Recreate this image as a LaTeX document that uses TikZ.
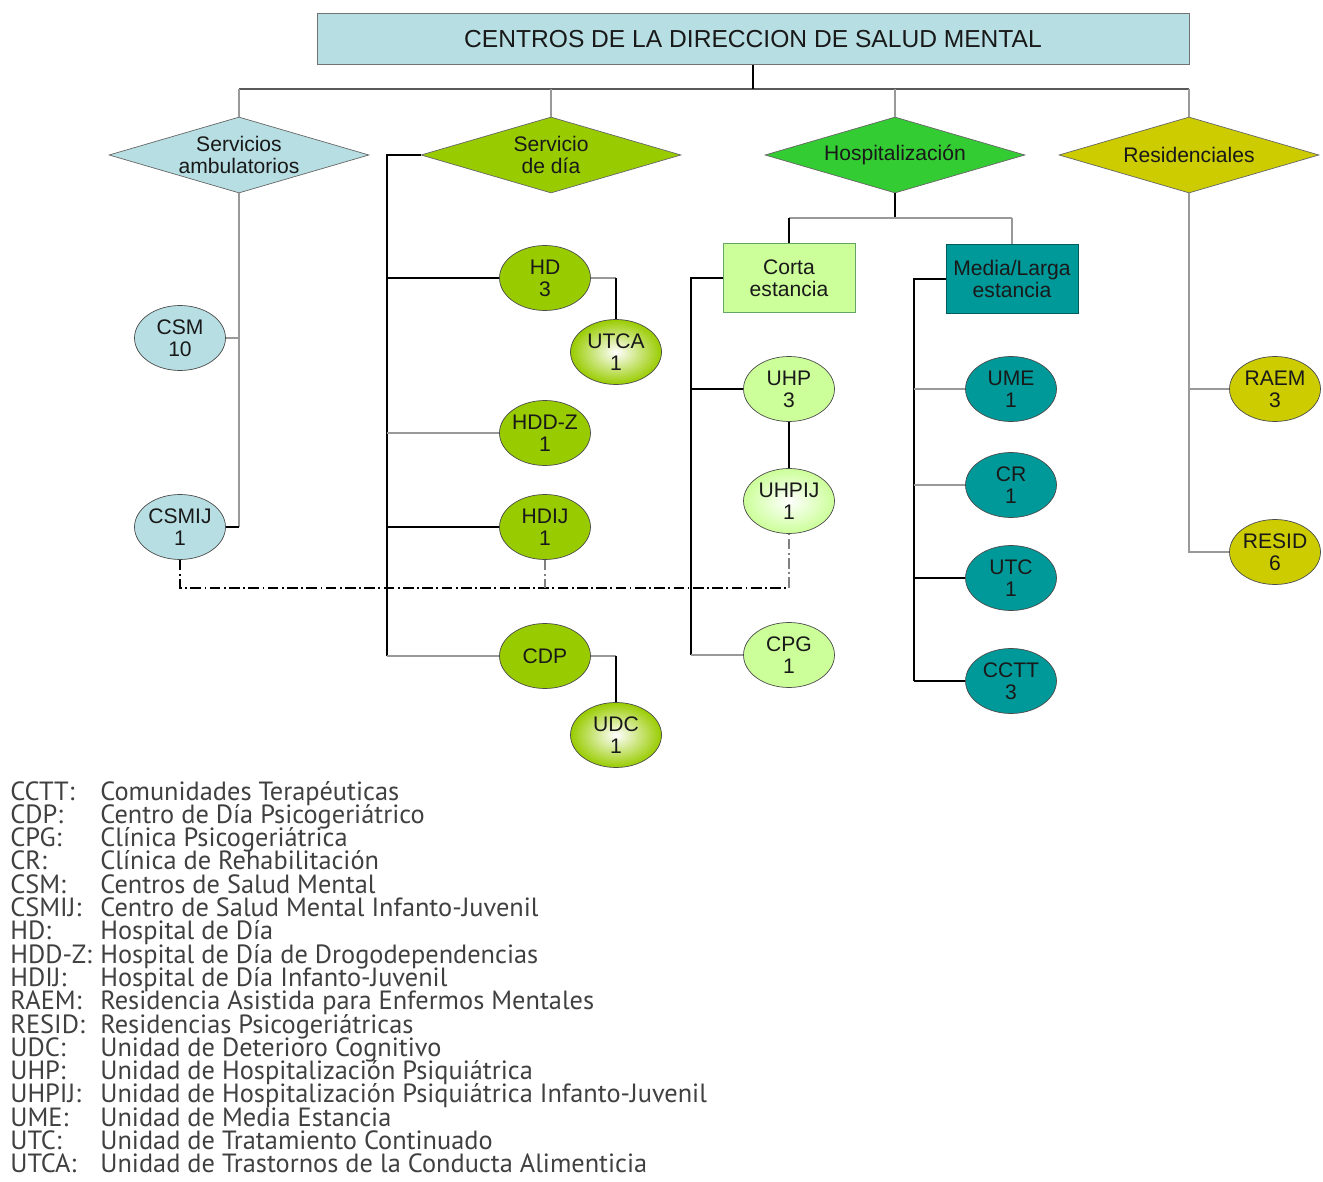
\documentclass[tikz,border=0pt]{standalone}
\usepackage{fontspec}
\setmainfont{Liberation Sans}
\newfontfamily\leyenda{PT Sans}
\usetikzlibrary{shapes.geometric}

\definecolor{azulclaro}{RGB}{183,223,227}
\definecolor{verdedia}{RGB}{153,204,0}
\definecolor{verdehosp}{RGB}{51,204,51}
\definecolor{amarillo}{RGB}{204,204,0}
\definecolor{verdepalido}{RGB}{204,255,153}
\definecolor{turquesa}{RGB}{0,153,153}

\begin{document}
\begin{tikzpicture}[x=0.02cm, y=-0.02cm,
        every node/.style={font=\fontsize{12}{12.5}\selectfont, align=center, text=black!90},
        titulo/.style={rectangle, fill=azulclaro, draw=black!55, minimum width=17.44cm, minimum height=1.02cm, font=\fontsize{14}{16}\selectfont},
        rombo/.style={diamond, draw=black!60, inner xsep=-0.6cm, inner ysep=-0.2cm, aspect=3.4, minimum width=5.2cm, minimum height=1.52cm},
        centro/.style={ellipse, draw=black!70, inner sep=-2pt, minimum width=1.82cm, minimum height=1.3cm},
        brillo/.style={centro, inner color=white, outer color=#1},
        caja/.style={rectangle, minimum width=2.64cm, minimum height=1.38cm},
        ejeNegro/.style={draw=black, line width=0.9pt},
        ejeGris/.style={draw=black!40, line width=0.9pt},
        enlace/.style={line width=0.8pt, dash pattern=on 6pt off 2pt on 1pt off 2pt},
        sigla/.style={anchor=base west, align=left, font=\leyenda\fontsize{15}{16}\selectfont, text=black!75}
    ]
        \useasboundingbox (0,0) rectangle (1323,1182);

        % Cabecera y grupos
        \node[titulo] (titulo) at (753,39) {CENTROS DE LA DIRECCION DE SALUD MENTAL};
        \node[rombo, fill=azulclaro] (amb) at (239,155) {Servicios\\ambulatorios};
        \node[rombo, fill=verdedia] (dia) at (551,155) {Servicio\\de día};
        \node[rombo, fill=verdehosp] (hosp) at (895,155) {Hospitalización};
        \node[rombo, fill=amarillo] (resi) at (1189,155) {Residenciales};

        % Servicios ambulatorios
        \node[centro, fill=azulclaro] (csm) at (180,338) {CSM\\10};
        \node[centro, fill=azulclaro] (csmij) at (180,527) {CSMIJ\\1};

        % Servicio de dia
        \node[centro, fill=verdedia] (hd) at (545,278) {HD\\3};
        \node[brillo=verdedia] (utca) at (616,352) {UTCA\\1};
        \node[centro, fill=verdedia] (hddz) at (545,433) {HDD-Z\\1};
        \node[centro, fill=verdedia] (hdij) at (545,527) {HDIJ\\1};
        \node[centro, fill=verdedia] (cdp) at (545,656) {CDP};
        \node[brillo=verdedia] (udc) at (616,735) {UDC\\1};

        % Hospitalizacion
        \node[caja, fill=verdepalido, draw=green!40!black!60] (corta) at (789,278) {Corta\\estancia};
        \node[caja, fill=turquesa, draw=turquesa!60!black] (media) at (1012,279) {Media/Larga\\estancia};
        \node[centro, fill=verdepalido] (uhp) at (789,389) {UHP\\3};
        \node[brillo=verdepalido] (uhpij) at (789,501) {UHPIJ\\1};
        \node[centro, fill=verdepalido] (cpg) at (789,655) {CPG\\1};
        \node[centro, fill=turquesa] (ume) at (1011,389) {UME\\1};
        \node[centro, fill=turquesa] (cr) at (1011,485) {CR\\1};
        \node[centro, fill=turquesa] (utc) at (1011,578) {UTC\\1};
        \node[centro, fill=turquesa] (cctt) at (1011,681) {CCTT\\3};

        % Residenciales
        \node[centro, fill=amarillo] (raem) at (1275,389) {RAEM\\3};
        \node[centro, fill=amarillo] (resid) at (1275,552) {RESID\\6};

        % Lineas de la cabecera
        \coordinate (bus) at (753,89);
        \draw[ejeGris, draw=black!65] (amb.north |- bus) -- (resi.north |- bus);
        \draw[ejeNegro, line width=1.3pt] (titulo.south) -- (bus);
        \draw[ejeGris] (amb.north |- bus) -- (amb.north);
        \draw[ejeGris] (dia.north |- bus) -- (dia.north);
        \draw[ejeGris] (hosp.north |- bus) -- (hosp.north);
        \draw[ejeGris] (resi.north |- bus) -- (resi.north);

        % Lineas de ambulatorios
        \draw[ejeGris] (amb.south) |- (csm.east);
        \draw[ejeGris] (amb.south) -- (amb.south |- csmij.east);
        \draw[ejeNegro] (amb.south |- csmij.east) -- (csmij.east);

        % Lineas de servicio de dia
        \coordinate (diabus) at (387,155);
        \draw[ejeNegro] (dia.west) -- (diabus) -- (diabus |- cdp.west);
        \draw[ejeNegro] (diabus |- hd.west) -- (hd.west);
        \draw[ejeGris] (diabus |- hddz.west) -- (hddz.west);
        \draw[ejeNegro] (diabus |- hdij.west) -- (hdij.west);
        \draw[ejeGris] (diabus |- cdp.west) -- (cdp.west);
        \draw[ejeGris] (hd.east) -- (hd.east -| utca.north);
        \draw[ejeNegro] (hd.east -| utca.north) -- (utca.north);
        \draw[ejeGris] (cdp.east) -- (cdp.east -| udc.north);
        \draw[ejeNegro] (cdp.east -| udc.north) -- (udc.north);

        % Lineas de hospitalizacion
        \coordinate (hbus) at (895,218);
        \draw[ejeNegro] (hosp.south) -- (hbus);
        \draw[ejeGris] (corta.north |- hbus) -- (media.north |- hbus);
        \draw[ejeNegro] (corta.north |- hbus) -- (corta.north);
        \draw[ejeGris] (media.north |- hbus) -- (media.north);
        \coordinate (cbus) at (691,278);
        \draw[ejeNegro] (corta.west) -- (cbus) -- (cbus |- cpg.west);
        \draw[ejeNegro] (cbus |- uhp.west) -- (uhp.west);
        \draw[ejeGris] (cbus |- cpg.west) -- (cpg.west);
        \draw[ejeNegro] (uhp.south) -- (uhpij.north);
        \coordinate (mbus) at (914,279);
        \draw[ejeNegro] (media.west) -- (mbus) -- (mbus |- cctt.west);
        \draw[ejeGris] (mbus |- ume.west) -- (ume.west);
        \draw[ejeGris] (mbus |- cr.west) -- (cr.west);
        \draw[ejeNegro] (mbus |- utc.west) -- (utc.west);
        \draw[ejeNegro] (mbus |- cctt.west) -- (cctt.west);

        % Lineas de residenciales
        \draw[ejeGris] (resi.south) |- (raem.west);
        \draw[ejeGris] (resi.south) |- (resid.west);

        % Enlace infanto-juvenil
        \coordinate (ijbus) at (180,588);
        \draw[enlace] (csmij.south) -- (ijbus) -- (uhpij.south |- ijbus);
        \draw[enlace, draw=black!50] (uhpij.south |- ijbus) -- (uhpij.south);
        \draw[enlace, draw=black!50] (hdij.south) -- (hdij.south |- ijbus);

        % Leyenda
        \foreach \sig/\txt [count=\i from 0] in {
            CCTT:/Comunidades Terapéuticas,
            CDP:/Centro de Día Psicogeriátrico,
            CPG:/Clínica Psicogeriátrica,
            CR:/Clínica de Rehabilitación,
            CSM:/Centros de Salud Mental,
            CSMIJ:/Centro de Salud Mental Infanto-Juvenil,
            HD:/Hospital de Día,
            HDD-Z:/Hospital de Día de Drogodependencias,
            HDIJ:/Hospital de Día Infanto-Juvenil,
            RAEM:/Residencia Asistida para Enfermos Mentales,
            RESID:/Residencias Psicogeriátricas,
            UDC:/Unidad de Deterioro Cognitivo,
            UHP:/Unidad de Hospitalización Psiquiátrica,
            UHPIJ:/Unidad de Hospitalización Psiquiátrica Infanto-Juvenil,
            UME:/Unidad de Media Estancia,
            UTC:/Unidad de Tratamiento Continuado,
            UTCA:/Unidad de Trastornos de la Conducta Alimenticia}
        {
            \node[sigla, inner sep=0pt] (sig\i) at (10,{800+23.3*\i}) {\sig};
            \node[sigla, inner sep=0pt] (def\i) at (100,{800+23.3*\i}) {\txt};
        }
    \end{tikzpicture}
\end{document}
